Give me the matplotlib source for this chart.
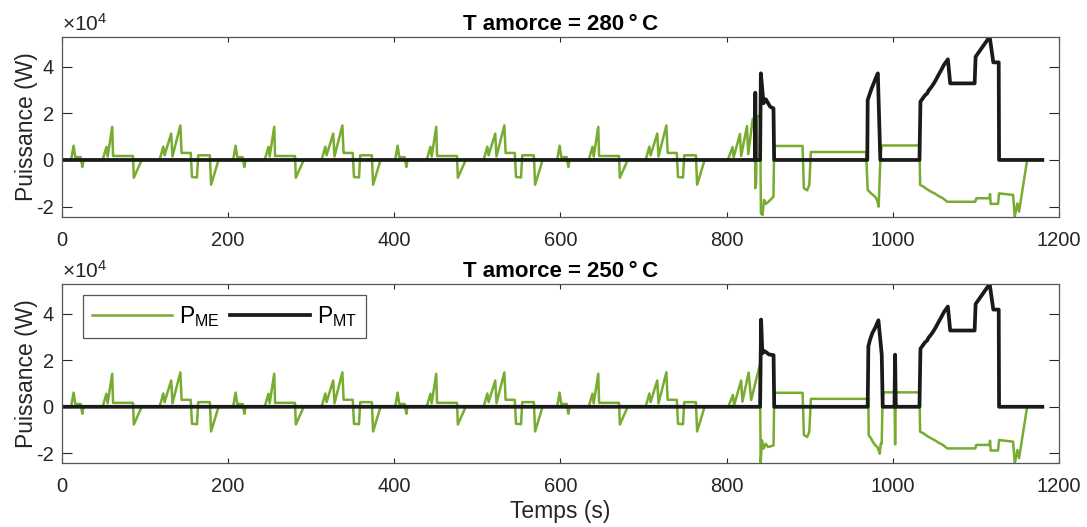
import numpy as np
import matplotlib
matplotlib.use("Agg")
import matplotlib.pyplot as plt
from matplotlib.ticker import FuncFormatter

# ---- data (time in s, power in kW) ------------------------------------------
# one urban (ECE-15) cycle of P_ME; repeated 4 times
ece_t = [0, 11, 14, 16, 22.5, 24.5, 26, 49, 53.5, 55, 60.5, 61.5, 85.5, 86.5, 96,
         117.5, 122, 123.5, 131.5, 133, 142.5, 144, 155, 156.5, 162.5, 164, 178,
         179.5, 188.5]
ece_pme = [0, 0, 6.1, 1.2, 1.2, -3.0, 0, 0, 5.6, 1.5, 14.2, 1.7, 1.7, -7.6, 0,
           0, 5.7, 2.0, 11.3, 1.5, 14.8, 3.0, 3.0, -7.3, -7.5, 2.0, 2.0,
           -10.6, 0]
ece_starts = [0, 195, 390, 585]

# extra-urban part, T amorce = 280 degC
eudc_t_280 = [801.5, 807, 808.5, 816, 817.5, 824.5, 826, 831.5, 834, 834.5, 835.5,
              836.5, 840.3, 841.3, 843.2, 845, 847.2, 850, 853, 856.4, 857.2,
              891.4, 893, 897, 899.5, 901.4, 967.8, 969.8, 973.8, 978.6, 981, 983,
              985, 986.6, 1032.1]
eudc_pme_280 = [0, 5.5, 1.2, 11.1, 1.7, 14.5, 2.5, 17.7, 17.0, -12.1, -10.0,
                18.5, 19.0, -22.9, -23.6, -17.1, -18.8, -18.0, -17.0, -15.7, 6.0,
                6.0, -12.1, -13.0, -10.7, 3.4, 3.4, -12.8, -14.3, -15.7, -17.1, -20.0,
                0, 6.2, 6.2]
pmt_t_280 = [0, 834, 834.5, 835, 840.3, 841.2, 844.4, 847.2, 852.4, 856.4, 857.2,
             969.3, 969.8, 971.8, 974.6, 977, 978.6, 982, 985]
pmt_280 = [0, 0, 28.8, 0, 0, 37.1, 24.3, 26.0, 22.8, 22.1, 0,
           0, 25.7, 27.8, 30.7, 32.8, 34.3, 37.1, 0]

# extra-urban part, T amorce = 250 degC
eudc_t_250 = [802, 807.5, 809, 817.5, 819, 826.5, 829.5, 840, 841, 842.5, 844.5,
              847, 850, 853, 856.5, 857.3, 891.4, 893, 897, 899.5, 901.4, 970.6,
              971, 974, 976, 979, 981.5, 984.3, 985.5, 986.7, 987.5, 988.7, 1002,
              1002.8, 1003.6, 1032.1]
eudc_pme_250 = [0, 5.1, 0.7, 11.3, 2.2, 14.7, 2.9, 18.0, -24.0, -14.4, -18.0,
                -15.9, -17.3, -17.0, -16.6, 6.0, 6.0, -12.1, -13.0, -10.7, 3.4, 3.4,
                -12.2, -13.7, -15.1, -16.6, -17.3, -20.2, -15.9, -15.9, 0, 6.2, 6.2,
                -16.2, 6.2, 6.2]
pmt_t_250 = [0, 840.3, 841.5, 843, 845, 847.5, 851, 856.5, 857.3, 969.8, 970.6,
             972.6, 975.4, 978.7, 982.7, 986.7, 987.9, 1002, 1002.8, 1003.6]
pmt_250 = [0, 0, 37.5, 23.0, 24.0, 23.5, 22.5, 22.2, 0, 0, 26.0,
           28.8, 31.7, 33.9, 37.2, 22.4, 0, 0, 22.4, 0]

# last block (1032 s -> end), the same in both runs
tail_t = [1032.9, 1037.3, 1041.4, 1046.2, 1050.2, 1055, 1060.3, 1065.5, 1099.3,
          1100.5, 1116.6, 1117, 1117.8, 1126.7, 1127.9, 1144.8, 1146.8, 1150,
          1152, 1161.7, 1180]
tail_pme = [-10.7, -11.5, -12.6, -13.6, -14.3, -15.4, -16.4, -17.9, -17.9,
            -16.4, -16.4, -14.6, -18.8, -18.8, -14.3, -15.0, -24.3, -18.6,
            -22.1, 0, 0]
tail_pmt_t = [1032.1, 1033.3, 1036.1, 1039, 1041.4, 1043, 1046.2, 1049.4, 1052.2,
              1055, 1058.3, 1061.5, 1066.3, 1069.1, 1098.5, 1099.7, 1116.6, 1121,
              1127.5, 1127.9, 1180]
tail_pmt = [0, 25.0, 26.4, 27.8, 28.5, 29.7, 31.1, 32.8, 34.5,
            36.4, 38.5, 40.7, 43.1, 32.8, 32.8, 44.2, 52.8, 41.8,
            41.8, 0, 0]

titles = ["T amorce = 280\u2009°\u2009C", "T amorce = 250\u2009°\u2009C"]

GREEN = "#77AC30"
AXCOL = "#262626"

plt.rcParams["font.family"] = ["Liberation Sans", "DejaVu Sans"]
plt.rcParams["axes.unicode_minus"] = False
plt.rcParams["mathtext.fontset"] = "custom"
plt.rcParams["mathtext.rm"] = "Liberation Sans"
plt.rcParams["mathtext.it"] = "Liberation Sans:italic"
plt.rcParams["mathtext.bf"] = "Liberation Sans:bold"


def build_series(eudc_t, eudc_pme, pmt_t, pmt):
    t_me = np.concatenate([np.array(ece_t) + s for s in ece_starts] + [eudc_t, tail_t])
    p_me = np.concatenate([ece_pme] * len(ece_starts) + [eudc_pme, tail_pme])
    t_mt = np.concatenate([pmt_t, tail_pmt_t])
    p_mt = np.concatenate([pmt, tail_pmt])
    return t_me, p_me * 1e3, t_mt, p_mt * 1e3


runs = [build_series(eudc_t_280, eudc_pme_280, pmt_t_280, pmt_280),
        build_series(eudc_t_250, eudc_pme_250, pmt_t_250, pmt_250)]
ymin = min(min(r[1].min(), r[3].min()) for r in runs)
ymax = max(max(r[1].max(), r[3].max()) for r in runs)

fig = plt.figure(figsize=(10.87, 5.27), dpi=100)
axes = [fig.add_axes([0.0570, 0.5888, 0.9172, 0.3416]),
        fig.add_axes([0.0570, 0.1209, 0.9172, 0.3402])]

for ax, (t_me, p_me, t_mt, p_mt), title in zip(axes, runs, titles):
    ax.plot(t_me, p_me, color=GREEN, lw=1.8, label=r"$\mathrm{P}_{\mathrm{ME}}$")
    ax.plot(t_mt, p_mt, color="#1a1a1a", lw=2.7, label=r"$\mathrm{P}_{\mathrm{MT}}$")
    ax.set_xlim(0, 1200)
    ax.set_ylim(ymin, ymax)
    ax.set_xticks(np.arange(0, 1201, 200))
    ax.set_yticks([-2e4, 0, 2e4, 4e4])
    # MATLAB style: labels in units of 1e4 with the exponent above the axis
    ax.yaxis.set_major_formatter(FuncFormatter(lambda v, _: f"{v / 1e4:g}"))
    ax.text(0, 1.035, r"$\times\mathdefault{10^{4}}$", transform=ax.transAxes,
            ha="left", va="baseline", fontsize=15, color=AXCOL)
    ax.tick_params(axis="both", direction="in", top=True, right=True,
                   labelsize=14.5, colors=AXCOL, width=0.8)
    ax.tick_params(axis="x", length=3.6, pad=10)
    ax.tick_params(axis="y", length=7.2, pad=6)
    for sp in ax.spines.values():
        sp.set_color("#555555")
        sp.set_linewidth(0.9)
    ax.set_ylabel("Puissance (W)", fontsize=16.5, color=AXCOL, labelpad=-1.5)
    ax.set_title(title, fontsize=16, fontweight="bold", pad=5)

axes[1].set_xlabel("Temps (s)", fontsize=16.5, color=AXCOL, labelpad=3)
leg = axes[1].legend(loc="upper left", bbox_to_anchor=(0.0208, 0.9387),
                     borderaxespad=0, ncol=2, fontsize=16.5, fancybox=False,
                     framealpha=1, edgecolor="#555555", handlelength=3.5,
                     handletextpad=0.3, columnspacing=0.45, borderpad=0.4)
leg.get_frame().set_linewidth(0.9)

fig.savefig("out.png", dpi=100)
